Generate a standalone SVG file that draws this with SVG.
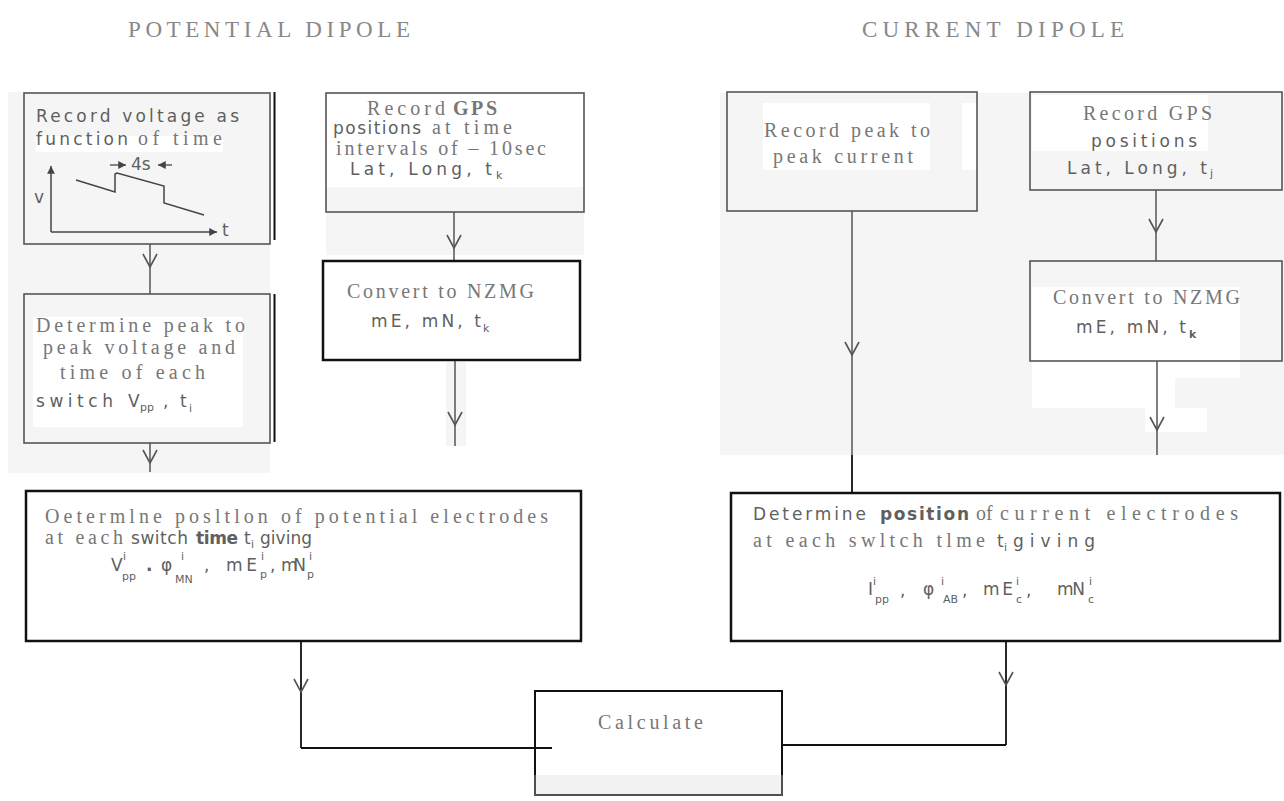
<svg xmlns="http://www.w3.org/2000/svg" width="1284" height="801" viewBox="0 0 1284 801">
<defs>
<marker id="vh" markerUnits="userSpaceOnUse" markerWidth="20" markerHeight="20" viewBox="-14 -10 16 20" refX="0" refY="0" orient="auto" overflow="visible">
<path d="M-13,-7 L0,0 L-13,7" fill="none" stroke="#555" stroke-width="1.6"/>
</marker>
<marker id="ah" markerUnits="userSpaceOnUse" markerWidth="10" markerHeight="10" viewBox="-8 -4 9 8" refX="0" refY="0" orient="auto" overflow="visible">
<path d="M-7,-3.5 L0,0 L-7,3.5 Z" fill="#444"/>
</marker>
<style>
.serif{font-family:"Liberation Serif",serif;fill:#777;font-size:20px}
.sans{font-family:"DejaVu Sans",sans-serif;fill:#5f5f5f;font-size:17px}
.sub{font-family:"DejaVu Sans",sans-serif;fill:#5f5f5f;font-size:11px}
.title{font-family:"Liberation Serif",serif;fill:#888;font-size:23px}
.gbox{fill:none;stroke:#555;stroke-width:1.6}
.kbox{fill:#fff;stroke:#111;stroke-width:2.5}
.gray{fill:#f5f5f5}
.white{fill:#fff}
.conn{fill:none;stroke:#555;stroke-width:1.5}
.connk{fill:none;stroke:#111;stroke-width:1.8}
.vm{marker-mid:url(#vh)}
</style>
</defs>
<rect width="1284" height="801" fill="#fff"/>

<g id="background">
<rect class="gray" x="8" y="92" width="262" height="381"/>
<rect class="gray" x="326" y="187" width="258" height="68"/>
<rect class="gray" x="446" y="362" width="20" height="84"/>
<rect class="gray" x="720" y="93" width="564" height="362"/>
<rect class="white" x="36" y="136" width="187" height="16"/>
<rect class="white" x="33" y="317" width="210" height="110"/>
<rect class="white" x="763" y="103" width="167" height="67"/>
<rect class="white" x="962" y="103" width="15" height="67"/>
<rect class="white" x="1032" y="95" width="176" height="56"/>
<rect class="white" x="1032" y="287" width="208" height="91"/>
<rect class="white" x="1032" y="378" width="143" height="30"/>
<rect class="white" x="1145" y="408" width="62" height="24"/>
</g>

<g id="titles">
<text class="title" x="128" y="37" textLength="282">POTENTIAL  DIPOLE</text>
<text class="title" x="862" y="37" textLength="262">CURRENT  DIPOLE</text>
</g>

<g id="connectors">
<path class="conn vm" d="M150,244 V267 V294"/>
<path class="conn vm" d="M150,443 V463 V472"/>
<path class="conn vm" d="M454,212 V248 V261"/>
<path class="conn vm" d="M455,360 V425 V446"/>
<path class="conn vm" d="M852,211 V355 V455"/>
<path class="connk" d="M852,455 V493"/>
<path class="conn vm" d="M1156,190 V232 V261"/>
<path class="conn vm" d="M1157,361 V430 V455"/>
<path class="connk vm" d="M301,641 V692 V748"/>
<path class="connk" d="M301,748 H552"/>
<path class="connk vm" d="M1006,641 V685 V745"/>
<path class="connk" d="M1006,745 H783"/>
<path d="M274.5,92 V240 M274.5,294 V442" fill="none" stroke="#111" stroke-width="2"/>
</g>

<g id="node-record-voltage">
<rect class="gbox" x="24" y="93" width="246" height="151"/>
<text class="sans" x="36" y="122" font-size="19" textLength="203">Record voltage as</text>
<text class="sans" x="36" y="145" font-size="19" textLength="92">function</text>
<text class="serif" x="138" y="145" textLength="84">of time</text>
<text class="sans" x="131" y="170" font-size="16">4s</text>
<path d="M110,165 H126" fill="none" stroke="#444" stroke-width="1.3" marker-end="url(#ah)"/>
<path d="M172,165 H158" fill="none" stroke="#444" stroke-width="1.3" marker-end="url(#ah)"/>
<path d="M51,232 V166" fill="none" stroke="#444" stroke-width="1.5" marker-end="url(#ah)"/>
<path d="M51,232 H217" fill="none" stroke="#444" stroke-width="1.5" marker-end="url(#ah)"/>
<path d="M76,180 L115,192 L115,174 L117,173 L164,186 L164,203 L204,215" fill="none" stroke="#444" stroke-width="1.5"/>
<text class="sans" x="34" y="203">v</text>
<text class="sans" x="222" y="236">t</text>
</g>

<g id="node-peak-voltage">
<rect class="gbox" x="24" y="294" width="246" height="149"/>
<text class="serif" x="36" y="332" textLength="209">Determine peak to</text>
<text class="serif" x="43" y="354" textLength="192">peak voltage and</text>
<text class="serif" x="60" y="379" textLength="145">time of each</text>
<text class="sans" x="36" y="407" textLength="77" font-size="18">switch</text>
<text class="sans" x="128" y="407">V</text>
<text class="sub" x="140" y="411" font-size="14">pp</text>
<text class="sans" x="163" y="407">,</text>
<text class="sans" x="180" y="407">t</text>
<text class="sub" x="189" y="412" font-size="12">i</text>
</g>

<g id="node-record-gps-p">
<rect class="gbox" x="326" y="93" width="258" height="119"/>
<text class="serif" x="367" y="115" textLength="78">Record</text>
<text class="serif" x="453" y="115" font-weight="bold" textLength="44">GPS</text>
<text class="sans" x="333" y="134" font-size="16" textLength="88">positions</text>
<text class="serif" x="432" y="134" textLength="80">at time</text>
<text class="serif" x="336" y="155" textLength="210">intervals of – 10sec</text>
<text class="sans" x="350" y="175" font-size="16" textLength="142">Lat, Long, t</text>
<text class="sub" x="496" y="179" font-size="14">k</text>
</g>

<g id="node-convert-p">
<rect class="kbox" x="323" y="261" width="257" height="99" stroke-width="2"/>
<text class="serif" x="347" y="298" font-size="21" textLength="187">Convert to NZMG</text>
<text class="sans" x="371" y="327" textLength="110">mE, mN, t</text>
<text class="sub" x="483" y="332" font-size="15">k</text>
</g>

<g id="node-position-p">
<rect class="kbox" x="26" y="491" width="555" height="150"/>
<text class="serif" x="45" y="523" textLength="503">Oetermlne posltlon of potential electrodes</text>
<text class="serif" x="45" y="544" textLength="78">at each</text>
<text class="sans" x="131" y="544" font-size="16" textLength="57">switch</text>
<text class="sans" x="196" y="544" font-size="16" font-weight="bold" fill="#555" textLength="42">time</text>
<text class="sans" x="244" y="544" font-size="16">t</text>
<text class="sub" x="251" y="548">i</text>
<text class="sans" x="260" y="544" font-size="16" textLength="52">giving</text>
<text class="sans" x="111" y="571" font-size="14">V</text>
<text class="sub" x="123" y="560">i</text>
<text class="sub" x="122" y="580" font-size="12">pp</text>
<text class="sans" x="146" y="571" font-weight="bold" font-size="18">.</text>
<text class="sans" x="161" y="571" font-size="15">φ</text>
<text class="sub" x="181" y="560">i</text>
<text class="sub" x="175" y="583">MN</text>
<text class="sans" x="204" y="571">,</text>
<text class="sans" x="226" y="571" font-size="15" textLength="31">mE</text>
<text class="sub" x="261" y="560">i</text>
<text class="sub" x="260" y="578">p</text>
<text class="sans" x="270" y="571">,</text>
<text class="sans" x="281" y="571" font-size="15" textLength="25">mN</text>
<text class="sub" x="309" y="560">i</text>
<text class="sub" x="307" y="578">p</text>
</g>

<g id="node-record-current">
<rect class="gbox" x="727" y="92" width="250" height="119"/>
<text class="serif" x="764" y="137" font-size="21" textLength="166">Record peak to</text>
<text class="serif" x="773" y="163" font-size="21" textLength="140">peak current</text>
</g>

<g id="node-record-gps-c">
<rect class="gbox" x="1030" y="92" width="252" height="98"/>
<text class="serif" x="1083" y="120" font-size="21" textLength="129">Record GPS</text>
<text class="sans" x="1091" y="147" font-size="17" textLength="106">positions</text>
<text class="sans" x="1067" y="174" font-size="17" textLength="140">Lat, Long, t</text>
<text class="sub" x="1210" y="177" font-size="14">j</text>
</g>

<g id="node-convert-c">
<rect class="gbox" x="1030" y="261" width="252" height="100"/>
<text class="serif" x="1053" y="304" font-size="21" textLength="187">Convert to NZMG</text>
<text class="sans" x="1076" y="333" font-size="17" textLength="110">mE, mN, t</text>
<text class="sub" x="1189" y="338" font-size="15" font-weight="bold">k</text>
</g>

<g id="node-position-c">
<rect class="kbox" x="731" y="493" width="549" height="148"/>
<text class="sans" x="753" y="520" textLength="113">Determine</text>
<text class="sans" x="880" y="520" font-weight="bold" fill="#555" textLength="89">position</text>
<text class="serif" x="976" y="520" font-size="15">of</text>
<text class="serif" x="1000" y="520" textLength="238">current  electrodes</text>
<text class="serif" x="753" y="547" textLength="232">at each swltch tlme</text>
<text class="sans" x="997" y="547">t</text>
<text class="sub" x="1004" y="551">i</text>
<text class="sans" x="1013" y="547" textLength="82">giving</text>
<text class="sans" x="868" y="595" font-size="13">I</text>
<text class="sub" x="873" y="585">i</text>
<text class="sub" x="875" y="603" font-size="13">pp</text>
<text class="sans" x="900" y="596">,</text>
<text class="sans" x="923" y="595" font-size="15">φ</text>
<text class="sub" x="941" y="585">i</text>
<text class="sub" x="943" y="603">AB</text>
<text class="sans" x="962" y="596">,</text>
<text class="sans" x="983" y="595" font-size="15" textLength="30">mE</text>
<text class="sub" x="1016" y="585">i</text>
<text class="sub" x="1016" y="603">c</text>
<text class="sans" x="1026" y="596">,</text>
<text class="sans" x="1057" y="595" font-size="15" textLength="28">mN</text>
<text class="sub" x="1089" y="585">i</text>
<text class="sub" x="1088" y="603">c</text>
</g>

<g id="node-calculate">
<rect x="535" y="775" width="247" height="20" fill="#f2f2f2"/>
<rect x="535" y="691" width="247" height="104" fill="none" stroke="#111" stroke-width="2"/>
<path d="M535,775 V795 H782 V775" fill="none" stroke="#666" stroke-width="1.5"/>
<text class="serif" x="598" y="729" font-size="21" textLength="105">Calculate</text>
</g>
</svg>
